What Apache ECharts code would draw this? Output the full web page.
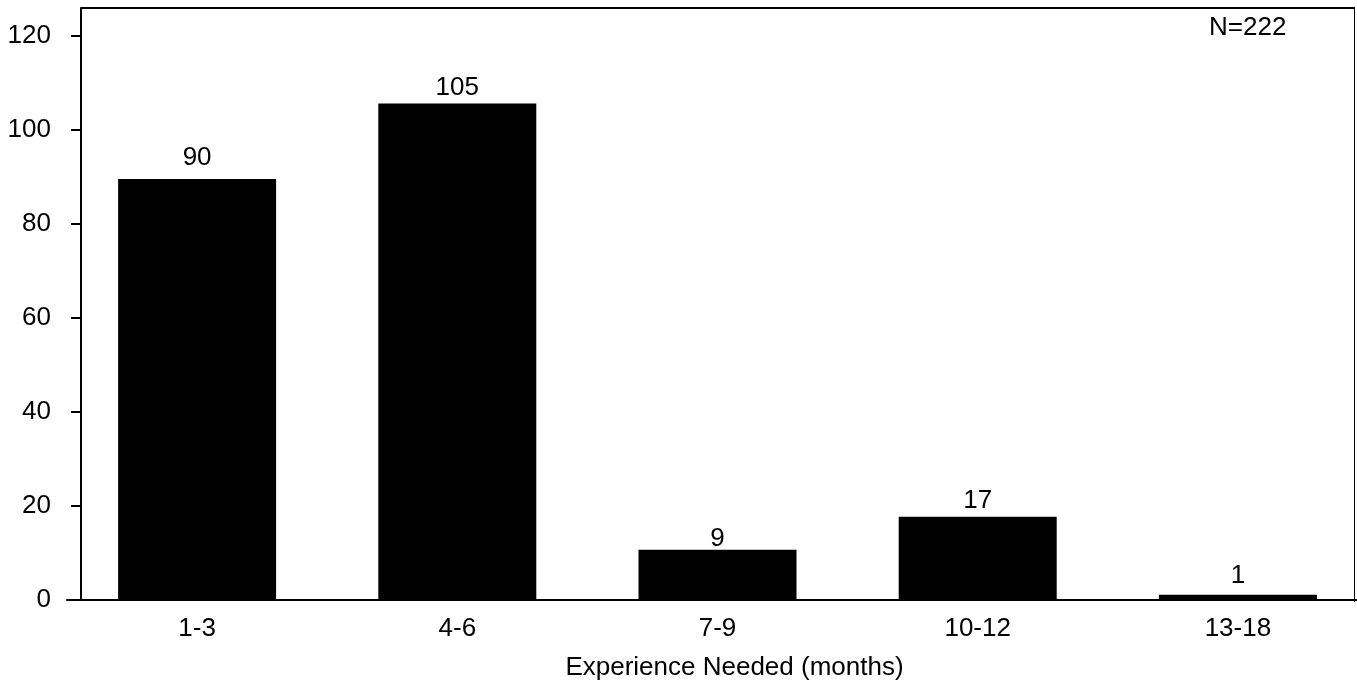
<!DOCTYPE html>
<html>
<head>
<meta charset="utf-8">
<script src="https://cdn.jsdelivr.net/npm/echarts@6/dist/echarts.min.js"></script>
<style>
html,body{margin:0;padding:0;background:#fff;overflow:hidden;}
#chart{width:1372px;height:686px;}
</style>
</head>
<body>
<div id="chart"></div>
<script>
const categories = ['1-3', '4-6', '7-9', '10-12', '13-18'];
const barValues = [89.6, 105.7, 10.7, 17.7, 1.1];
const labelValues = [90, 105, 9, 17, 1];
const yTicks = [0, 20, 40, 60, 80, 100, 120];
const xTitle = 'Experience Needed (months)';
const note = 'N=222';

const FONT = '"Liberation Sans", Arial, sans-serif';
const FS = 26;
const chart = echarts.init(document.getElementById('chart'), null, {renderer: 'canvas'});
chart.setOption({
  animation: false,
  backgroundColor: '#fff',
  textStyle: {fontFamily: FONT, color: '#000'},
  grid: {left: 67, width: 1301, top: 8, bottom: 84, containLabel: false},
  xAxis: {
    type: 'category',
    data: categories,
    axisLine: {lineStyle: {color: '#000', width: 2}},
    axisTick: {show: false},
    axisLabel: {fontSize: FS, color: '#000', margin: 16, fontFamily: FONT},
    name: xTitle,
    nameLocation: 'middle',
    nameGap: 55,
    nameTextStyle: {fontSize: FS, color: '#000', fontFamily: FONT, padding: [0, 0, 0, 34]}
  },
  yAxis: {
    type: 'value',
    min: 0,
    max: 126,
    offset: -14,
    splitLine: {show: false},
    axisLine: {show: true, lineStyle: {color: '#000', width: 2}},
    axisTick: {show: true, length: 10, lineStyle: {color: '#000', width: 2}, customValues: yTicks},
    axisLabel: {fontSize: FS, color: '#000', margin: 30, fontFamily: FONT, customValues: yTicks}
  },
  series: [
    {
      type: 'bar',
      data: barValues,
      barWidth: 158,
      itemStyle: {color: '#000'},
      z: 2
    },
    {
      type: 'bar',
      data: labelValues,
      barWidth: 158,
      barGap: '-100%',
      itemStyle: {color: 'rgba(0,0,0,0)'},
      label: {show: true, position: 'top', distance: 6, fontSize: FS, color: '#000', fontFamily: FONT},
      z: 3,
      silent: true
    }
  ],
  graphic: [
    {type: 'line', shape: {x1: 81, y1: 8, x2: 1355, y2: 8}, style: {stroke: '#000', lineWidth: 2}, silent: true},
    {type: 'line', shape: {x1: 1354.5, y1: 8, x2: 1354.5, y2: 602}, style: {stroke: '#000', lineWidth: 1}, silent: true},
    {type: 'text', left: 1209, top: 15, style: {text: note, fontSize: FS, fill: '#000', fontFamily: FONT}, silent: true}
  ]
});
</script>
</body>
</html>
